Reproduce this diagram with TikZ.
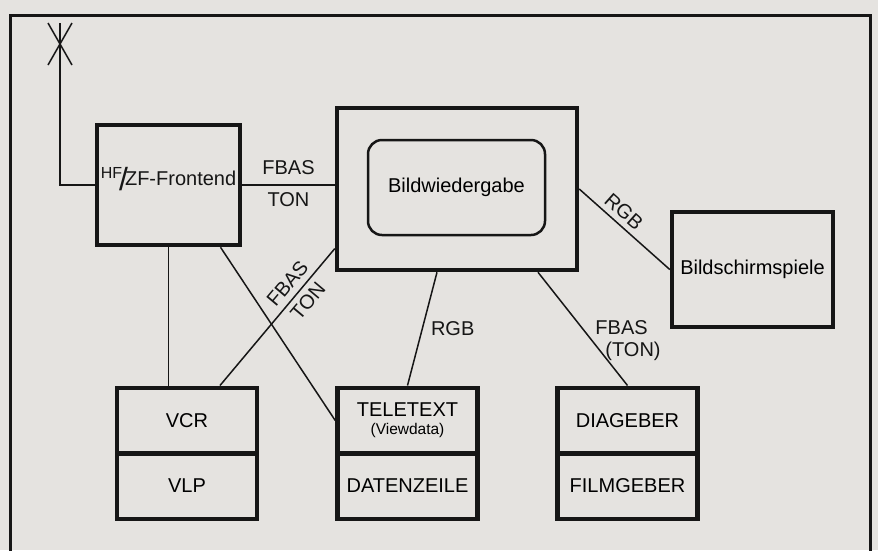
\documentclass[tikz,border=0pt]{standalone}
\usepackage{fontspec}
\setmainfont{Liberation Sans}
\usetikzlibrary{positioning,calc}
\definecolor{tvpaper}{HTML}{E5E3E0}
\definecolor{tvink}{HTML}{161616}
\tikzset{
  block/.style={draw=tvink,line width=4.5pt,inner sep=0pt,
    font=\fontsize{20}{22}\selectfont},
  half/.style={block,minimum width=140pt,minimum height=65.5pt,align=center},
  wire/.style={draw=tvink,line width=1.5pt},
  lbl/.style={font=\fontsize{20}{22}\selectfont,inner sep=3pt,text=tvink}
}

\begin{document}
\begin{tikzpicture}[x=1pt,y=-1pt]
  \fill[tvpaper] (0,0) rectangle (878,550);
  \clip (0,0) rectangle (878,550);
  \draw[tvink,line width=3pt] (10,560) -- (10,15) -- (870,15) -- (870,560);

  % main blocks
  \node[block,minimum width=143pt,minimum height=120pt] (frontend) at (168.5,185) {};
  \node[lbl] (hfzf) at ([yshift=6pt]frontend.center)
    {\raisebox{7pt}{\fontsize{16}{16}\selectfont HF}\kern-3pt\raisebox{-5pt}{\fontsize{32}{32}\selectfont/}\kern-3pt ZF-Frontend};
  \node[block,minimum width=240pt,minimum height=162pt] (bild) at (457,189) {};
  \node[draw=tvink,line width=2.5pt,rounded corners=14pt,minimum width=177pt,
    minimum height=95pt,font=\fontsize{20}{22}\selectfont] (screen) at (456.5,187.5) {Bildwiedergabe};
  \node[block,minimum width=161pt,minimum height=115pt] (spiele) at (752.5,269.5) {Bildschirmspiele};

  % sources below
  \foreach \up/\dn/\x/\uptxt/\dntxt in {%
    vcr/vlp/187/VCR/VLP,
    tele/zeile/407.5/{TELETEXT\\[-4pt]{\fontsize{15.5}{16}\selectfont(Viewdata)}}/DATENZEILE,
    dia/film/627.5/DIAGEBER/FILMGEBER}
  {
    \node[half] (\up) at (\x,420.5) {\uptxt};
    \node[half] (\dn) at (\x,486) {\dntxt};
  }

  % antenna
  \coordinate (mast) at (60,23);
  \draw[wire] (frontend.west) -| (mast);
  \draw[wire] (mast) ++(-12,0) -- ++(24,42);
  \draw[wire] (mast) ++(12,0) -- ++(-24,42);

  % signal paths
  \draw[wire] (frontend.east) -- (frontend.east -| bild.west)
    node[lbl,pos=0.5,above=7pt] {FBAS}
    node[lbl,pos=0.5,below=4pt] {TON};
  \draw[wire] (frontend.south) -- (frontend.south |- vcr.north);
  \draw[wire] ([xshift=33pt]vcr.north) -- (bild.206)
    node[lbl,sloped,pos=0.68,above=3pt] {FBAS}
    node[lbl,sloped,pos=0.68,below=2pt] {TON};
  \draw[wire] ([xshift=52pt]frontend.south) -- (tele.west);
  \draw[wire] ([xshift=-20pt]bild.south) -- (tele.north)
    node[lbl,pos=0.5,right=5pt] {RGB};
  \draw[wire] (bild.east) -- (spiele.west)
    node[lbl,sloped,pos=0.4,above=2pt] {RGB};
  \draw[wire] ([xshift=81pt]bild.south) -- (dia.north)
    node[lbl,pos=0.6,right,align=left] {FBAS\\\hspace*{10pt}(TON)};
\end{tikzpicture}
\end{document}
